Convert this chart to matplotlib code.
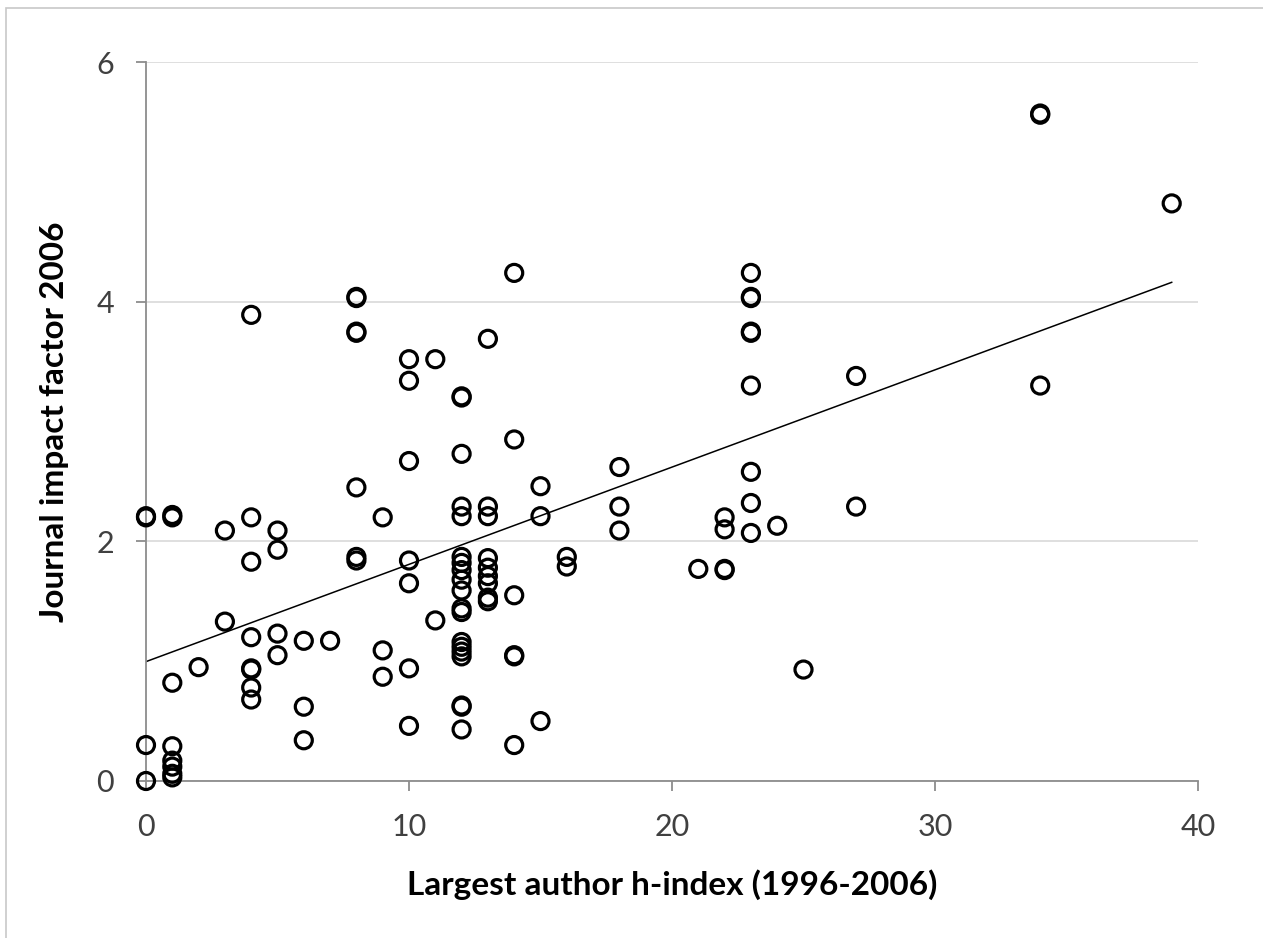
import matplotlib.pyplot as plt
from matplotlib.patches import Rectangle
import numpy as np

plt.rcParams['font.family'] = ['Lato', 'DejaVu Sans']

# largest author h-index vs journal impact factor
h_index = [0, 0, 0, 0,
           1, 1, 1, 1, 1, 1, 1, 1,
           2,
           3, 3,
           4, 4, 4, 4, 4, 4, 4, 4,
           5, 5, 5, 5,
           6, 6, 6,
           7,
           8, 8, 8, 8, 8, 8, 8,
           9, 9, 9,
           10, 10, 10, 10, 10, 10, 10,
           11, 11,
           12, 12, 12, 12, 12, 12, 12, 12, 12, 12, 12, 12, 12, 12, 12, 12, 12, 12, 12,
           13, 13, 13, 13, 13, 13, 13, 13, 13,
           14, 14, 14, 14, 14, 14,
           15, 15, 15,
           16, 16,
           18, 18, 18,
           21,
           22, 22, 22, 22,
           23, 23, 23, 23, 23, 23, 23, 23, 23,
           24,
           25,
           27, 27,
           34, 34, 34,
           39]
impact = [2.20, 2.21, 0.30, 0.00,
          2.20, 2.22, 0.82, 0.29, 0.17, 0.12, 0.06, 0.03,
          0.95,
          2.09, 1.33,
          3.89, 2.20, 1.83, 1.20, 0.93, 0.94, 0.78, 0.68,
          2.09, 1.93, 1.23, 1.05,
          1.17, 0.62, 0.34,
          1.17,
          4.03, 4.04, 3.75, 3.74, 2.45, 1.87, 1.84,
          2.20, 1.09, 0.87,
          3.52, 3.34, 2.67, 1.84, 1.65, 0.94, 0.46,
          3.52, 1.34,
          3.21, 3.20, 2.73, 2.29, 2.21, 1.87, 1.82, 1.76, 1.68, 1.59, 1.44, 1.41,
          1.16, 1.12, 1.08, 1.04, 0.63, 0.62, 0.43,
          3.69, 2.29, 2.21, 1.86, 1.78, 1.71, 1.65, 1.53, 1.50,
          4.24, 2.85, 1.55, 1.05, 1.04, 0.30,
          2.46, 2.21, 0.50,
          1.87, 1.79,
          2.62, 2.29, 2.09,
          1.77,
          2.20, 2.10, 1.77, 1.76,
          4.24, 4.03, 4.04, 3.75, 3.74, 3.30, 2.58, 2.32, 2.07,
          2.13,
          0.93,
          3.38, 2.29,
          5.56, 5.57, 3.30,
          4.82]

x_ticks = [0, 10, 20, 30, 40]
y_ticks = [0, 2, 4, 6]

fig = plt.figure(figsize=(12.63, 9.38), dpi=100)
ax = fig.add_axes([146/1263, 1 - 781/938, (1198-146)/1263, (781-62)/938])

# outer chart border (only top/left edges are inside the picture)
fig.patches.append(Rectangle((6/1263, -0.1), 1.2, 1 - 8/938 + 0.1, transform=fig.transFigure,
                             fill=False, edgecolor='#c8c8c8', linewidth=1.2))

x = np.array(h_index)
y = np.array(impact)
ax.scatter(x, y, s=150, facecolors='none', edgecolors='black', linewidths=2.3,
           clip_on=False, zorder=3)

# linear trend line
k, b = np.polyfit(x, y, 1)
xl = np.array([0, max(h_index)])
ax.plot(xl, k*xl + b, color='black', linewidth=1.1, zorder=2)

ax.set_xlim(0, 40)
ax.set_ylim(0, 6)
ax.set_xticks(x_ticks)
ax.set_yticks(y_ticks)
ax.grid(axis='y', color='#d9d9d9', linewidth=1.2)
ax.set_axisbelow(True)

for s in ['top', 'right']:
    ax.spines[s].set_visible(False)
for s in ['left', 'bottom']:
    ax.spines[s].set_color('#8c8c8c')
    ax.spines[s].set_linewidth(1.3)
ax.tick_params(colors='#8c8c8c', length=7, width=1.3, labelsize=22, labelcolor='#404040', pad=16)

ax.set_xlabel('Largest author h-index (1996-2006)', fontsize=24, fontweight='bold', labelpad=20)
ax.set_ylabel('Journal impact factor 2006', fontsize=24, fontweight='bold', labelpad=20)

fig.savefig('out.png', dpi=100)
